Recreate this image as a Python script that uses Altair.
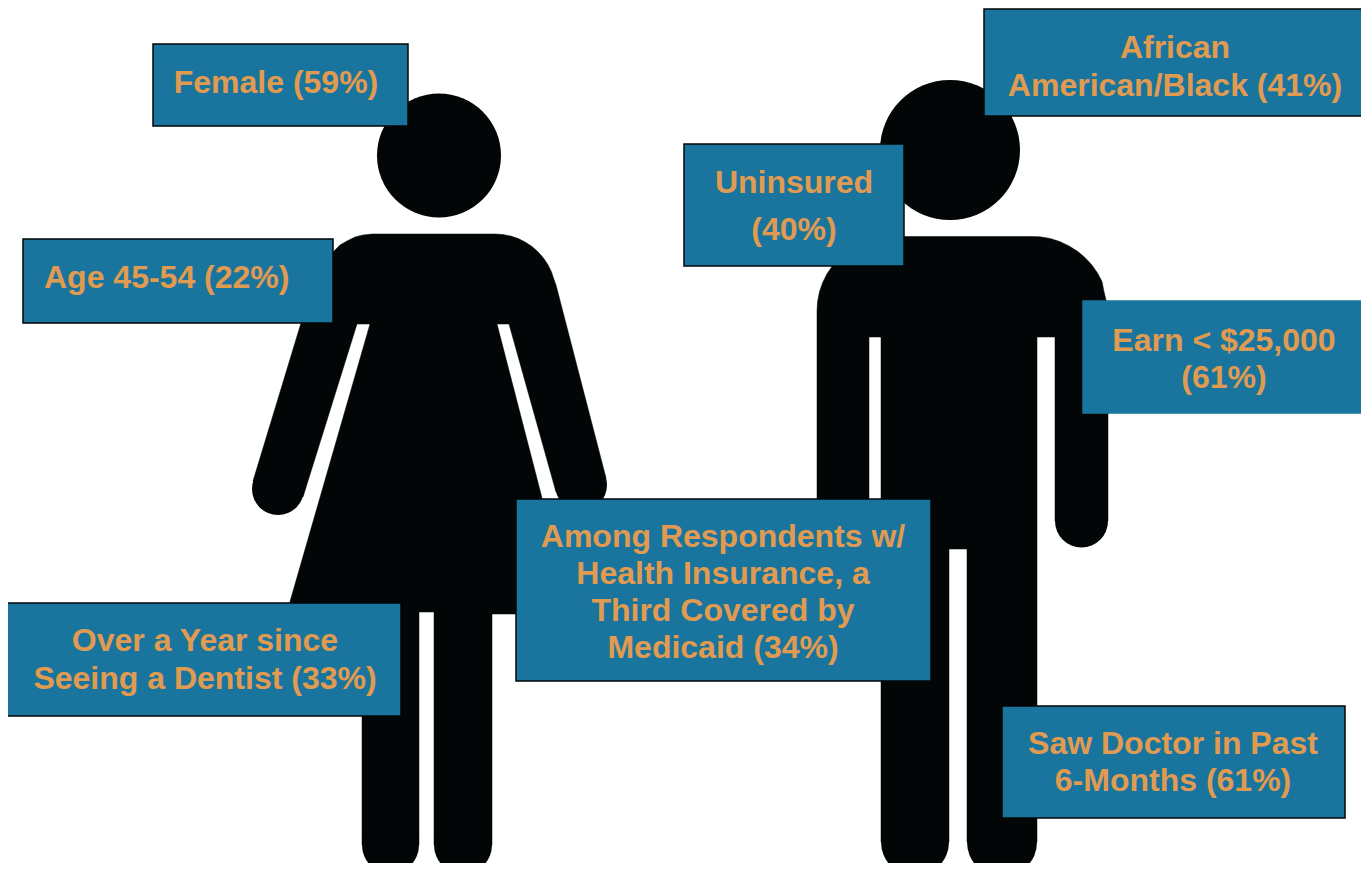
import altair as alt
import pandas as pd

BLACK = "#020607"
BLUE = "#19759E"
ORANGE = "#E19B50"
FONT = "Liberation Sans"

woman_x = [372, 495, 503, 510.8, 518.3, 525.5, 532.1, 538.1, 543.4, 547.8, 551.4, 553.9, 556, 606, 556, 509, 497, 572, 492, 492, 463, 434,
           434, 419, 419, 390.5, 362, 362, 287, 370, 357, 303, 253,
           301, 322, 333, 340, 347, 355, 363]
woman_y = [234, 234, 234.5, 236.1, 238.6, 242.2, 246.6, 251.9, 257.9, 264.5, 271.7, 279.2, 285, 478, 492, 324, 324, 614, 614, 845, 845, 845,
           612, 612, 845, 845, 845, 612, 612, 324, 324, 497, 481,
           323, 262, 252, 245, 241, 237, 235]

man_x = [891, 1030, 1040.2, 1050.2, 1059.8, 1069, 1077.5, 1085.2, 1091.9, 1097.5, 1102.1, 1103.8, 1106, 1108, 1108, 1055, 1055, 1037,
         1037, 967, 967, 949, 949, 881, 881, 869, 869, 817,
         817, 817.6, 819.5, 822.6, 826.9, 832.3, 838.7, 846, 854, 862.7, 871.8, 881.3]
man_y = [236.5, 236.5, 236.8, 238.5, 241.6, 245.9, 251.3, 257.7, 265, 273, 281.7, 290.8, 300, 310, 521, 521, 337, 337,
         842, 842, 549, 549, 842, 842, 337, 337, 510, 510,
         311, 301.3, 291.8, 282.7, 274, 266, 258.7, 252.3, 246.9, 242.6, 239.5, 237.6]

round_x = [439, 950, 278, 581, 1081.5, 390.5, 463, 915, 1002]
round_y = [155.5, 150, 489, 485, 521, 845, 845, 842, 842]
round_r = [62, 70, 26, 26, 26.5, 28.5, 29, 34, 35]

box_x = [153, 23, 7, 516, 684, 984, 1083, 1002]
box_x2 = [408, 333, 401, 931, 904, 1367, 1367, 1345]
box_y = [44, 239, 603, 499, 144, 9, 301, 706]
box_y2 = [126, 323, 716, 681, 266, 116, 413, 818]
box_line = [BLACK, BLACK, BLACK, BLACK, BLACK, BLACK, BLUE, BLACK]

center_lines = ["Female (59%)",
                "Over a Year since", "Seeing a Dentist (33%)",
                "Among Respondents w/", "Health Insurance, a", "Third Covered by", "Medicaid (34%)",
                "Uninsured", "(40%)",
                "African", "American/Black (41%)",
                "Earn < $25,000", "(61%)",
                "Saw Doctor in Past", "6-Months (61%)"]
center_x = [276, 205, 205, 723, 723, 723, 723, 794, 794, 1175, 1175, 1224, 1224, 1173, 1173]
center_y = [93, 651, 689, 547, 584, 621, 658, 193, 240, 58, 96, 351, 388, 754, 791]

left_lines = ["Age 45-54 (22%)"]
left_x = [44]
left_y = [288]

X = alt.Scale(domain=[8, 1361], nice=False, zero=False)
Y = alt.Scale(domain=[863, 8], nice=False, zero=False)


def outline(xs, ys):
    df = pd.DataFrame({"x": xs + xs[:1], "y": ys + ys[:1]})
    df["o"] = range(len(df))
    return alt.Chart(df).mark_line(fill=BLACK, stroke=BLACK, strokeWidth=0.5, clip=True).encode(
        x=alt.X("x:Q", scale=X, axis=None),
        y=alt.Y("y:Q", scale=Y, axis=None),
        order="o:Q",
    )


rounds = alt.Chart(pd.DataFrame({"x": round_x, "y": round_y, "s": [4 * r * r for r in round_r]})).mark_point(
    filled=True, color=BLACK, opacity=1, shape="circle", clip=True
).encode(
    x=alt.X("x:Q", scale=X, axis=None),
    y=alt.Y("y:Q", scale=Y, axis=None),
    size=alt.Size("s:Q", scale=None, legend=None),
)

boxes = alt.Chart(pd.DataFrame({"x": box_x, "x2": box_x2, "y": box_y, "y2": box_y2, "c": box_line})).mark_rect(
    fill=BLUE, strokeWidth=1.5, clip=True
).encode(
    x=alt.X("x:Q", scale=X, axis=None),
    x2="x2:Q",
    y=alt.Y("y:Q", scale=Y, axis=None),
    y2="y2:Q",
    stroke=alt.Stroke("c:N", scale=None, legend=None),
)


def texts(lines, xs, ys, align):
    return alt.Chart(pd.DataFrame({"t": lines, "x": xs, "y": ys})).mark_text(
        font=FONT, fontSize=32, fontWeight="bold", color=ORANGE, align=align, baseline="alphabetic"
    ).encode(
        x=alt.X("x:Q", scale=X, axis=None),
        y=alt.Y("y:Q", scale=Y, axis=None),
        text="t:N",
    )


chart = alt.layer(
    outline(woman_x, woman_y),
    outline(man_x, man_y),
    rounds,
    boxes,
    texts(center_lines, center_x, center_y, "center"),
    texts(left_lines, left_x, left_y, "left"),
).properties(
    width=1353, height=855, padding=0, background="white",
    autosize=alt.AutoSizeParams(type="none"),
).configure_view(stroke=None)

chart.save("out.html", embed_options={"renderer": "svg", "actions": False})
